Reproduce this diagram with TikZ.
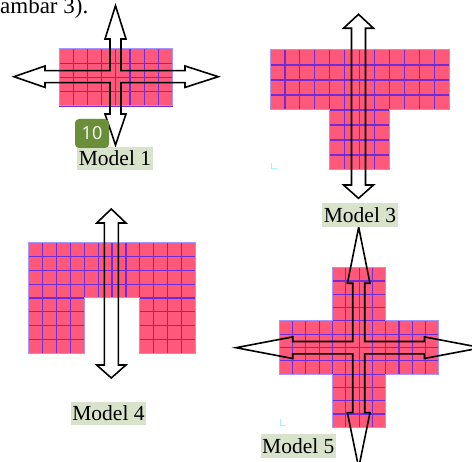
\documentclass[tikz,border=0pt]{standalone}
\usepackage{fontspec}
\setmainfont{Liberation Serif}
\newfontfamily\badgefont{Open Sans}
\definecolor{cellfill}{RGB}{255,88,122}
\definecolor{gridc}{RGB}{110,45,215}
\definecolor{bordc}{RGB}{165,150,255}
\definecolor{labelbg}{RGB}{217,227,203}
\definecolor{badgec}{RGB}{107,142,57}
\definecolor{markc}{RGB}{170,240,250}
\tikzset{
 cellst/.style={fill=cellfill},
 gridlst/.style={draw=gridc, line width=1.1pt},
 bordst/.style={draw=bordc, line width=1pt},
 arrst/.style={draw=black, line width=1.6pt, line join=miter},
 lblst/.style={fill=labelbg, inner xsep=1.5pt, inner ysep=0pt, text height=19pt, text depth=4.5pt, font=\fontsize{21.5}{24}\selectfont, anchor=base},
 badgest/.style={fill=badgec, rounded corners=4pt, text=white, minimum width=34pt, minimum height=29pt, inner sep=0pt, font=\badgefont\fontsize{18}{20}\selectfont},
 markst/.style={draw=markc, line width=1pt},
}
% x0,y0,cw,ch,ncols,nrows
\newcommand\mygrid[6]{%
 \foreach \k in {1,...,#5} \draw[gridlst] ({#1+\k*#3},#2) -- ({#1+\k*#3},{#2+#6*#4});
 \foreach \k in {1,...,#6} \draw[gridlst] (#1,{#2+\k*#4}) -- ({#1+#5*#3},{#2+\k*#4});
}
\newcommand\crossarrow{%
 \draw[arrst] (\aCX,{\aCY-\aUT}) -- ({\aCX+\aHW},{\aCY-\aUB}) -- ({\aCX+\aSW},{\aCY-\aUB}) -- ({\aCX+\aSW},{\aCY-\aSH}) -- ({\aCX+\aRB},{\aCY-\aSH}) -- ({\aCX+\aRB},{\aCY-\aHH}) -- ({\aCX+\aRT},\aCY) -- ({\aCX+\aRB},{\aCY+\aHH}) -- ({\aCX+\aRB},{\aCY+\aSH}) -- ({\aCX+\aSW},{\aCY+\aSH}) -- ({\aCX+\aSW},{\aCY+\aDB}) -- ({\aCX+\aHW},{\aCY+\aDB}) -- (\aCX,{\aCY+\aDT}) -- ({\aCX-\aHW},{\aCY+\aDB}) -- ({\aCX-\aSW},{\aCY+\aDB}) -- ({\aCX-\aSW},{\aCY+\aSH}) -- ({\aCX-\aLB},{\aCY+\aSH}) -- ({\aCX-\aLB},{\aCY+\aHH}) -- ({\aCX-\aLT},\aCY) -- ({\aCX-\aLB},{\aCY-\aHH}) -- ({\aCX-\aLB},{\aCY-\aSH}) -- ({\aCX-\aSW},{\aCY-\aSH}) -- ({\aCX-\aSW},{\aCY-\aUB}) -- ({\aCX-\aHW},{\aCY-\aUB}) -- cycle;}
\newcommand\dblarrow{%
 \draw[arrst] (\aCX,\aTT) -- ({\aCX+\aHW},\aTB) -- ({\aCX+\aSW},\aTB) -- ({\aCX+\aSW},\aBB) -- ({\aCX+\aHW},\aBB) -- (\aCX,\aBT) -- ({\aCX-\aHW},\aBB) -- ({\aCX-\aSW},\aBB) -- ({\aCX-\aSW},\aTB) -- ({\aCX-\aHW},\aTB) -- cycle;}
\begin{document}
\begin{tikzpicture}[x=1pt,y=-1pt]
\useasboundingbox (0,0) rectangle (472,462);
% caption fragment
\node[anchor=base east, inner sep=0pt, font=\fontsize{23}{26}\selectfont] (cap) at (88.5,14) {Gambar 3).};
% ---- Model 1 grid
\fill[cellst] (59,49) rectangle (172.6,106);
\mygrid{59}{49}{14.2}{14.25}{8}{4}
\draw[bordst] (59,49) rectangle (172.6,106);
% ---- Model 3 grid
\fill[cellst] (270,50) -- (449.4,50) -- (449.4,110) -- (389.6,110) -- (389.6,170) -- (329.8,170) -- (329.8,110) -- (270,110) -- cycle;
\begin{scope}
\clip (270,50) -- (449.4,50) -- (449.4,110) -- (389.6,110) -- (389.6,170) -- (329.8,170) -- (329.8,110) -- (270,110) -- cycle;
\mygrid{270}{50}{14.95}{15}{12}{8}
\end{scope}
\draw[bordst] (270,50) -- (449.4,50) -- (449.4,110) -- (389.6,110) -- (389.6,170) -- (329.8,170) -- (329.8,110) -- (270,110) -- cycle;
% ---- Model 4 grid
\fill[cellst] (28.3,242.7) -- (195.7,242.7) -- (195.7,353.3) -- (139.9,353.3) -- (139.9,298) -- (84.1,298) -- (84.1,353.3) -- (28.3,353.3) -- cycle;
\begin{scope}
\clip (28.3,242.7) -- (195.7,242.7) -- (195.7,353.3) -- (139.9,353.3) -- (139.9,298) -- (84.1,298) -- (84.1,353.3) -- (28.3,353.3) -- cycle;
\mygrid{28.3}{242.7}{13.95}{13.83}{12}{8}
\end{scope}
\draw[bordst] (28.3,242.7) -- (195.7,242.7) -- (195.7,353.3) -- (139.9,353.3) -- (139.9,298) -- (84.1,298) -- (84.1,353.3) -- (28.3,353.3) -- cycle;
% ---- Model 5 grid
\fill[cellst] (332.5,267.7) -- (385.7,267.7) -- (385.7,320.9) -- (438.9,320.9) -- (438.9,374.1) -- (385.7,374.1) -- (385.7,427.3) -- (332.5,427.3) -- (332.5,374.1) -- (279.3,374.1) -- (279.3,320.9) -- (332.5,320.9) -- cycle;
\begin{scope}
\clip (332.5,267.7) -- (385.7,267.7) -- (385.7,320.9) -- (438.9,320.9) -- (438.9,374.1) -- (385.7,374.1) -- (385.7,427.3) -- (332.5,427.3) -- (332.5,374.1) -- (279.3,374.1) -- (279.3,320.9) -- (332.5,320.9) -- cycle;
\mygrid{279.3}{267.7}{13.3}{13.3}{12}{12}
\end{scope}
\draw[bordst] (332.5,267.7) -- (385.7,267.7) -- (385.7,320.9) -- (438.9,320.9) -- (438.9,374.1) -- (385.7,374.1) -- (385.7,427.3) -- (332.5,427.3) -- (332.5,374.1) -- (279.3,374.1) -- (279.3,320.9) -- (332.5,320.9) -- cycle;
% ---- arrows
\def\aCX{115.5}\def\aCY{76.7}\def\aUT{71}\def\aUB{37.7}\def\aDT{68.3}\def\aDB{37.3}
\def\aHW{10.5}\def\aSW{5.5}\def\aSH{6}\def\aHH{10.7}\def\aLT{101.5}\def\aLB{70.5}\def\aRT{102.8}\def\aRB{69.5}
\crossarrow
\def\aCX{358.7}\def\aCY{347.7}\def\aUT{120.4}\def\aUB{64.4}\def\aDT{120}\def\aDB{65}
\def\aHW{11.3}\def\aSW{6}\def\aSH{6.2}\def\aHH{10.8}\def\aLT{122.7}\def\aLB{66}\def\aRT{122.7}\def\aRB{65.6}
\crossarrow
\def\aCX{358.5}\def\aTT{14.3}\def\aTB{28.3}\def\aBB{185}\def\aBT{198.3}\def\aHW{15}\def\aSW{7}
\dblarrow
\def\aCX{111.3}\def\aTT{209}\def\aTB{223}\def\aBB{365}\def\aBT{378}\def\aHW{14.6}\def\aSW{7}
\dblarrow
% ---- small marks
\draw[markst] (271,163) -- (271,169) -- (277,169);
\draw[markst] (280,419) -- (280,425.5) -- (285,425.5);
% ---- labels
\node[lblst] (l1) at (115,166) {Model 1};
\node[lblst] (l3) at (360,222.5) {Model 3};
\node[lblst] (l4) at (108.5,421) {Model 4};
\node[lblst] (l5) at (298.3,453.3) {Model 5};
\node[badgest] (b10) at (92,133.5) {10};
\end{tikzpicture}
\end{document}
